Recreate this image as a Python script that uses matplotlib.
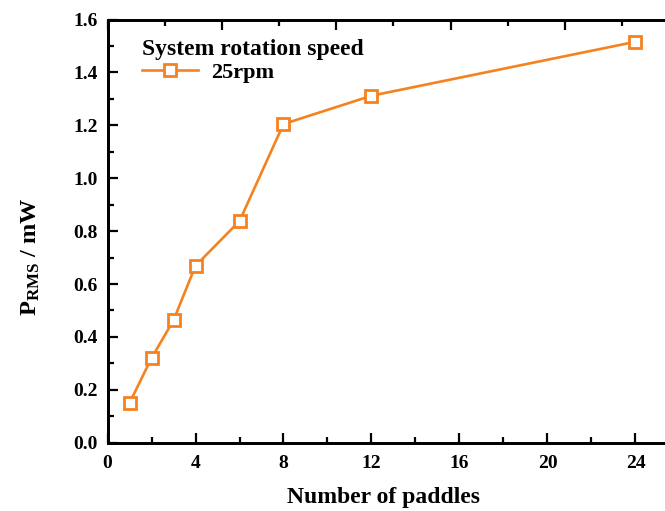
import matplotlib
matplotlib.use("Agg")
import matplotlib.pyplot as plt
from matplotlib.ticker import MultipleLocator, FormatStrFormatter

plt.rcParams['font.family'] = ['Liberation Serif', 'DejaVu Serif']
plt.rcParams['font.weight'] = 'bold'
plt.rcParams['mathtext.fontset'] = 'custom'
plt.rcParams['mathtext.rm'] = 'Liberation Serif:bold'
plt.rcParams['mathtext.it'] = 'Liberation Serif:bold:italic'
plt.rcParams['mathtext.bf'] = 'Liberation Serif:bold'

paddles = [1, 2, 3, 4, 6, 8, 12, 24]
p_rms = [0.15, 0.32, 0.463, 0.669, 0.838, 1.205, 1.312, 1.516]
series_label = "25rpm"
legend_title = "System rotation speed"
x_ticks = [0, 4, 8, 12, 16, 20, 24]

color = '#F5821F'

fig = plt.figure(figsize=(6.65, 5.11), dpi=100)
ax = fig.add_axes([0.1617, 0.1337, 0.860, 0.828])

ax.plot(paddles, p_rms, color=color, lw=1.9, marker='s', ms=8.5,
        mfc='white', mec=color, mew=2.0, label=series_label)

ax.set_xlim(0, 26)
ax.set_ylim(0, 1.6)
ax.set_xticks(x_ticks)
ax.xaxis.set_minor_locator(MultipleLocator(2))
ax.yaxis.set_major_locator(MultipleLocator(0.2))
ax.yaxis.set_minor_locator(MultipleLocator(0.1))
ax.yaxis.set_major_formatter(FormatStrFormatter('%.1f'))

for s in ax.spines.values():
    s.set_linewidth(2.0)

ax.tick_params(which='major', direction='in', length=7, width=1.6,
               labelsize=14, pad=7)
ax.tick_params(axis='x', which='major', pad=9)
ax.tick_params(which='minor', direction='in', length=4, width=1.6)

# top axis with its own tick spacing
top = ax.twiny()
top.set_xlim(ax.get_xlim())
top.xaxis.set_major_locator(MultipleLocator(5.2))
top.xaxis.set_minor_locator(MultipleLocator(2.6))
top.tick_params(which='major', direction='in', length=7, width=1.6,
                labeltop=False)
top.tick_params(which='minor', direction='in', length=4, width=1.6)
for s in top.spines.values():
    s.set_linewidth(2.0)

ax.set_xlabel("Number of paddles", fontsize=17, fontweight='bold')
ax.xaxis.set_label_coords(0.482, -0.105)
ax.set_ylabel(r"P$_{\mathrm{RMS}}$ / mW", fontsize=17.5, fontweight='bold')
ax.yaxis.set_label_coords(-0.115, 0.44)

leg = ax.legend(title=legend_title, loc='upper left', frameon=False,
                fontsize=16, title_fontproperties={'weight': 'bold', 'size': 17},
                handlelength=2.5, handletextpad=0.6, labelspacing=0.2,
                borderaxespad=0.0, borderpad=0.0,
                bbox_to_anchor=(0.061, 0.955))
leg._legend_box.align = 'left'
leg._legend_box.sep = 2

fig.savefig('out.png', dpi=100)
